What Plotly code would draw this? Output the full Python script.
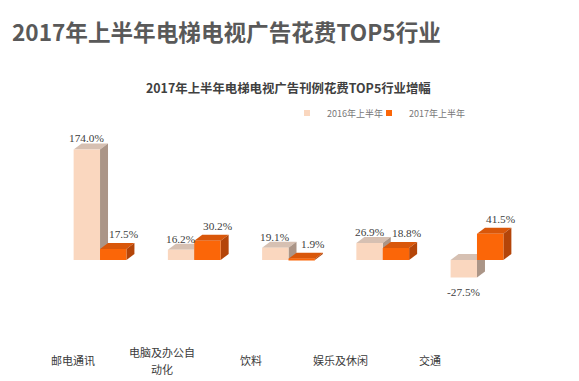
import plotly.graph_objects as go

# ---- data ----
categories = ["邮电通讯", "电脑及办公自<br>动化", "饮料", "娱乐及休闲", "交通"]
series_names = ["2016年上半年", "2017年上半年"]
values_2016 = [174.0, 16.2, 19.1, 26.9, -27.5]
values_2017 = [17.5, 30.2, 1.9, 18.8, 41.5]
main_title = "2017年上半年电梯电视广告花费TOP5行业"
sub_title = "2017年上半年电梯电视广告刊例花费TOP5行业增幅"

# ---- style / geometry constants ----
W, H = 579, 381
X_RANGE = [-0.5, 4.5]
X_DOM_PX = [52.9, 524.1]
Y_RANGE = [-40, 185]
Y_TOP_PX, Y_BOT_PX = 142.5, 285.4
LBL_DOM_PX = [27.9, 474.9]
BARGAP = 0.44
DX_PX, DY_PX = 8, 6
LEGEND_X_PX = [287, 369]
LINE_STEP_PX = 17

px_per_x = (X_DOM_PX[1] - X_DOM_PX[0]) / (X_RANGE[1] - X_RANGE[0])
px_per_y = (Y_BOT_PX - Y_TOP_PX) / (Y_RANGE[1] - Y_RANGE[0])
dxu = DX_PX / px_per_x
dyu = DY_PX / px_per_y
bw = (1 - BARGAP) / 2

styles = [
    dict(front="#fad7bf", top="#d6c0b2", side="#ab9587", off=-bw, lbl_dx=0, lbl_dy=5),
    dict(front="#fb6608", top="#d9570a", side="#b44509", off=0.0, lbl_dx=11, lbl_dy=9),
]
series_vals = [values_2016, values_2017]
xs = list(range(len(categories)))

fig = go.Figure()
shapes = []
annotations = []

for name, vals, st in zip(series_names, series_vals, styles):
    fig.add_trace(go.Bar(
        x=xs, y=vals, name=name, showlegend=False,
        marker=dict(color=st["front"], line=dict(width=0)),
        hoverinfo="y+name",
    ))

# legend entries (small square swatches), one legend each
legend_ids = ["legend", "legend2"]
for name, st, lid in zip(series_names, styles, legend_ids):
    fig.add_trace(go.Scatter(
        x=[None], y=[None], name=name, mode="markers", legend=lid,
        marker=dict(symbol="square", size=6, color=st["front"]),
    ))

for vals, st in zip(series_vals, styles):
    for i, v in zip(xs, vals):
        x0 = i + st["off"]
        x1 = x0 + bw
        t = max(v, 0)
        lo, hi = min(v, 0), max(v, 0)
        # top face
        shapes.append(dict(
            type="path", xref="x", yref="y", layer="below",
            path=f"M{x0},{t} L{x0+dxu},{t+dyu} L{x1+dxu},{t+dyu} L{x1},{t} Z",
            fillcolor=st["top"], line=dict(width=0)))
        # side face
        shapes.append(dict(
            type="path", xref="x", yref="y", layer="below",
            path=f"M{x1},{lo} L{x1+dxu},{lo+dyu} L{x1+dxu},{hi+dyu} L{x1},{hi} Z",
            fillcolor=st["side"], line=dict(width=0)))
        # value label
        if v >= 0:
            ya, ys = v + dyu, st["lbl_dy"]
        else:
            ya, ys = v, -15
        annotations.append(dict(
            x=x0 + bw / 2, y=ya, xref="x", yref="y",
            text=f"{v:.1f}%", showarrow=False,
            xanchor="center", yanchor="middle",
            xshift=st["lbl_dx"], yshift=ys,
            font=dict(family="Liberation Serif", size=11.3, color="#404040")))

# invisible helper trace for the category-label axis
fig.add_trace(go.Scatter(
    x=xs, y=[0] * len(xs), xaxis="x2", yaxis="y", mode="markers",
    marker=dict(opacity=0), showlegend=False, hoverinfo="skip"))

for i, c in zip(xs, categories):
    lines = c.split("<br>")
    n = len(lines)
    for k, line in enumerate(lines):
        annotations.append(dict(
            x=i, y=1 - 360 / H, xref="x2", yref="paper", text=line, showarrow=False,
            xanchor="center", yanchor="middle",
            yshift=-(k - (n - 1) / 2) * LINE_STEP_PX,
            font=dict(family="Noto Sans CJK SC", size=11, color="#3a3a3a")))

annotations.append(dict(
    x=288.5 / W, y=1 - 88 / H, xref="paper", yref="paper",
    text=f"<b>{sub_title}</b>", showarrow=False,
    xanchor="center", yanchor="middle",
    font=dict(family="Noto Sans CJK SC", size=12.4, color="#404040")))

legend_style = dict(orientation="h", xanchor="left", y=1 - 113 / H, yanchor="middle",
                    font=dict(family="Noto Sans CJK SC", size=9, color="#777777"),
                    bgcolor="rgba(0,0,0,0)")

fig.update_layout(
    width=W, height=H,
    margin=dict(l=0, r=0, t=0, b=0),
    paper_bgcolor="white", plot_bgcolor="rgba(0,0,0,0)",
    barmode="group", bargap=BARGAP, bargroupgap=0,
    title=dict(text=f"<b>{main_title}</b>", x=12 / W, xanchor="left",
               y=1 - 33 / H, yanchor="middle",
               font=dict(family="Noto Sans CJK SC", size=22.6, color="#595959")),
    xaxis=dict(range=X_RANGE, domain=[X_DOM_PX[0] / W, X_DOM_PX[1] / W],
               visible=False, fixedrange=True),
    xaxis2=dict(range=X_RANGE, domain=[LBL_DOM_PX[0] / W, LBL_DOM_PX[1] / W],
                anchor="y", visible=False),
    yaxis=dict(range=Y_RANGE, domain=[1 - Y_BOT_PX / H, 1 - Y_TOP_PX / H],
               visible=False, zeroline=False, showgrid=False),
    legend=dict(x=LEGEND_X_PX[0] / W, **legend_style),
    legend2=dict(x=LEGEND_X_PX[1] / W, **legend_style),
    shapes=shapes,
    annotations=annotations,
)

fig.write_html("out.html", config={"displayModeBar": False},
               post_script="document.body.style.margin='0';")
